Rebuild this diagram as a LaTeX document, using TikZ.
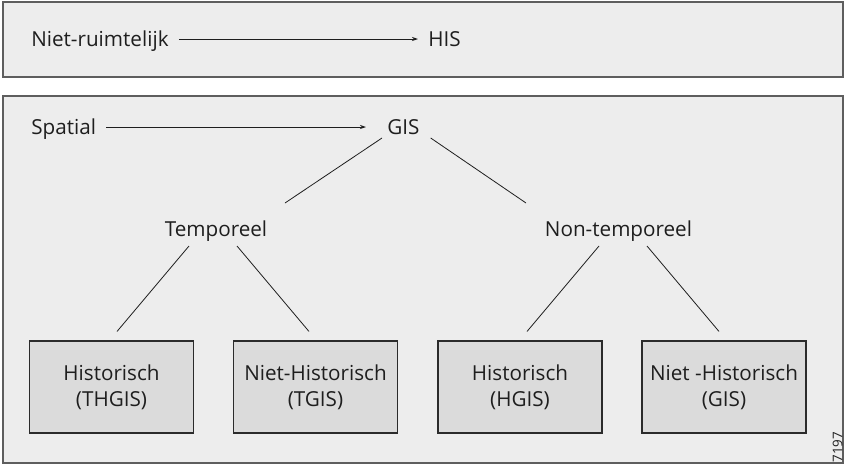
\documentclass[tikz,border=0pt]{standalone}
\usepackage{fontspec}
\setmainfont{Open Sans}
\usetikzlibrary{calc,arrows.meta}
\definecolor{panelfill}{HTML}{EDEDED}
\definecolor{panelline}{HTML}{5E5E5E}
\definecolor{boxfill}{HTML}{DBDBDB}
\definecolor{boxline}{HTML}{2B2B2B}
\definecolor{ink}{HTML}{1E1E1E}
\begin{document}
\begin{tikzpicture}[x=0.75pt,y=-0.75pt,
  lbl/.style={inner sep=0pt,text=ink,font=\fontsize{15.5}{19.5}\selectfont},
  catbox/.style={draw=boxline,fill=boxfill,line width=0.8pt,minimum width=123pt,
    minimum height=69pt,inner sep=0pt,align=center,text=ink,
    font=\fontsize{15.5}{19.5}\selectfont},
  arr/.style={draw=ink,line width=0.6pt,-{Stealth[length=4.5pt,width=3pt]}},
  link/.style={draw=ink,line width=0.6pt},
  panel/.style={draw=panelline,fill=panelfill,line width=0.9pt}]
\useasboundingbox (0,0) rectangle (845,465);

% two panels
\draw[panel] (3,2) rectangle (843,77);
\draw[panel] (3,96) rectangle (843,463);

% upper panel: non-spatial
\node[lbl,anchor=base west] (nr) at (31,46) {Niet-ruimtelijk};
\node[lbl,anchor=base west] (his) at (428,46) {HIS};
\draw[arr] ($(nr.base east)+(10,-7)$) -- ($(his.base west)+(-10,-7)$);

% lower panel: spatial tree
\node[lbl,anchor=base west] (sp) at (31,134) {Spatial};
\node[lbl,anchor=base west] (gis) at (387,134) {GIS};
\draw[arr] ($(sp.base east)+(10,-7)$) -- ($(gis.base west)+(-21,-7)$);

\node[lbl,anchor=base] (temp) at (216,236) {Temporeel};
\node[lbl,anchor=base] (ntemp) at (618.5,236) {Non-temporeel};

\draw[link] ($(gis.base west)+(-5,4)$) -- ($(temp.base)+(69,-33)$);
\draw[link] ($(gis.base east)+(11,4)$) -- ($(ntemp.base)+(-92.5,-33)$);

\node[catbox] (b1) at (111.5,387) {Historisch\\(THGIS)};
\node[catbox] (b2) at (315.5,387) {Niet-Historisch\\(TGIS)};
\node[catbox] (b3) at (520,387) {Historisch\\(HGIS)};
\node[catbox] (b4) at (724,387) {Niet -Historisch\\(GIS)};

\draw[link] ($(temp.base)+(-27,10)$) -- ($(b1.north)+(5.5,-9)$);
\draw[link] ($(temp.base)+(21,10)$) -- ($(b2.north)+(-6.5,-9)$);
\draw[link] ($(ntemp.base)+(-19.5,10)$) -- ($(b3.north)+(7,-9)$);
\draw[link] ($(ntemp.base)+(28.5,10)$) -- ($(b4.north)+(-5,-9)$);

% figure number
\node[lbl,font=\fontsize{10}{12}\selectfont,rotate=90] (num) at (837.5,447) {7197};
\end{tikzpicture}
\end{document}
